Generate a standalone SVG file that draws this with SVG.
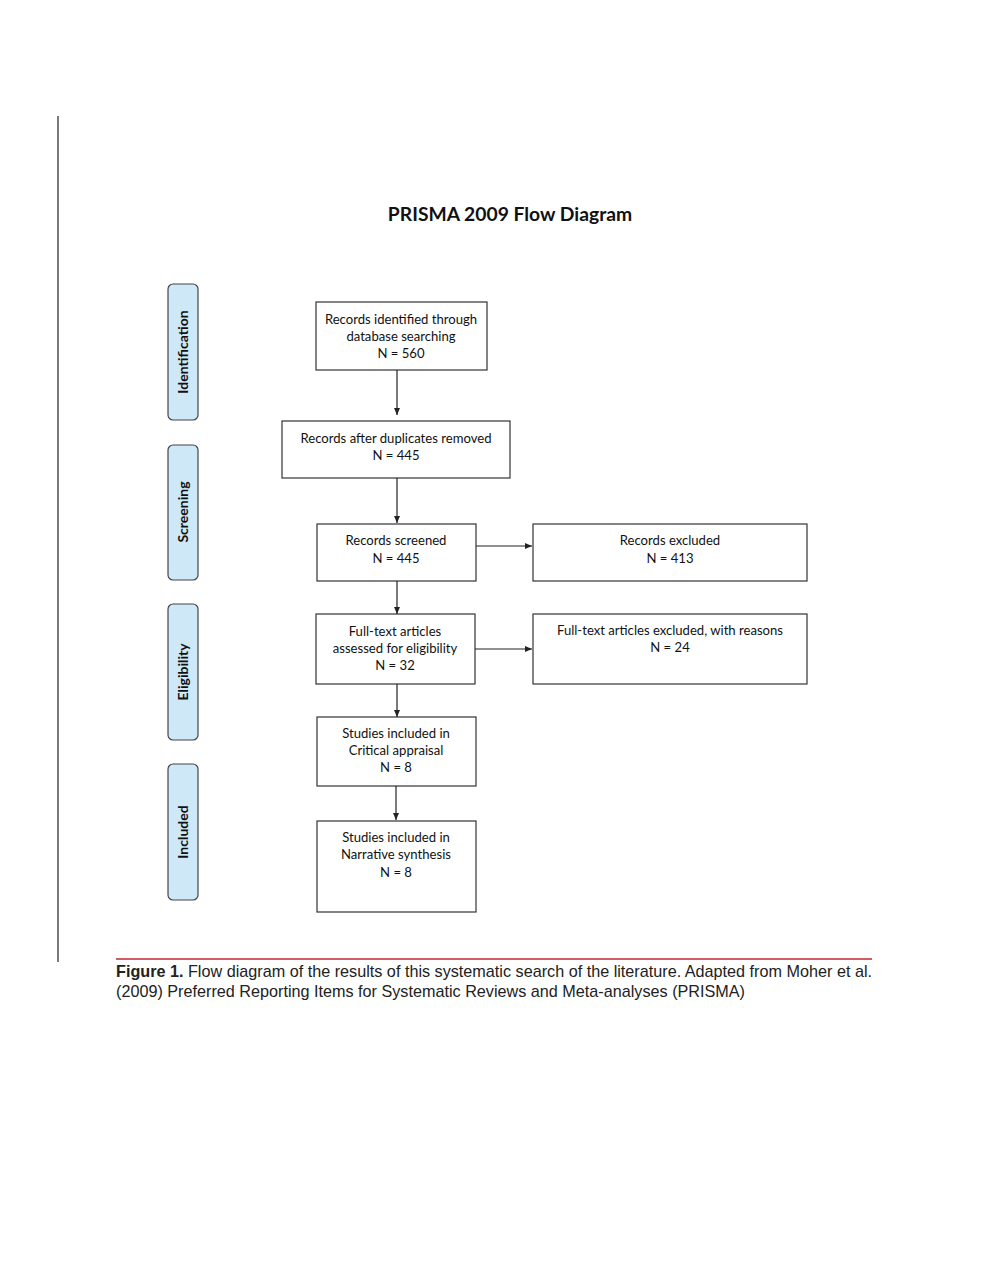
<svg xmlns="http://www.w3.org/2000/svg" width="989" height="1280" viewBox="0 0 989 1280">
<style>
.box{fill:#fff;stroke:#333;stroke-width:1.2}
.side{fill:#cfe8f8;stroke:#444;stroke-width:1.2}
.t{font-family:Lato,"Open Sans",sans-serif;font-size:13.1px;fill:#111;text-anchor:middle}
.s{font-family:Lato,"Open Sans",sans-serif;font-size:14px;font-weight:bold;fill:#111;text-anchor:middle}
.c{stroke:#222;stroke-width:1.2;fill:none;marker-end:url(#ah)}
.cap{font-family:"Liberation Sans",Arial,sans-serif;font-size:17px;fill:#222}
</style>
<defs>
<marker id="ah" markerWidth="8" markerHeight="8" refX="7" refY="4" orient="auto" markerUnits="userSpaceOnUse">
<path d="M0,1 L7,4 L0,7 Z" fill="#222"/>
</marker>
</defs>
<rect width="989" height="1280" fill="#fff"/>
<line x1="58" y1="116" x2="58" y2="962" stroke="#222" stroke-width="1.2"/>
<text x="510" y="221" font-family="Lato,'Open Sans',sans-serif" font-size="19.3" font-weight="bold" fill="#111" text-anchor="middle">PRISMA 2009 Flow Diagram</text>

<g id="phase-identification"><rect class="side" x="168" y="284" width="30" height="136" rx="5"/><text class="s" transform="translate(188,352) rotate(-90)">Identification</text></g>
<g id="phase-screening"><rect class="side" x="168" y="445" width="30" height="135" rx="5"/><text class="s" transform="translate(188,512) rotate(-90)">Screening</text></g>
<g id="phase-eligibility"><rect class="side" x="168" y="604" width="30" height="136" rx="5"/><text class="s" transform="translate(188,672) rotate(-90)">Eligibility</text></g>
<g id="phase-included"><rect class="side" x="168" y="764" width="30" height="136" rx="5"/><text class="s" transform="translate(188,832) rotate(-90)">Included</text></g>

<g id="n-identified"><rect class="box" x="316" y="302" width="171" height="68"/><text class="t" x="401" y="324">Records identified through</text><text class="t" x="401" y="341">database searching</text><text class="t" x="401" y="358">N = 560</text></g>
<g id="n-dedup"><rect class="box" x="282" y="421" width="228" height="57"/><text class="t" x="396" y="443">Records after duplicates removed</text><text class="t" x="396" y="460">N = 445</text></g>
<g id="n-screened"><rect class="box" x="317" y="524" width="159" height="57"/><text class="t" x="396" y="545">Records screened</text><text class="t" x="396" y="563">N = 445</text></g>
<g id="n-excluded"><rect class="box" x="533" y="524" width="274" height="57"/><text class="t" x="670" y="545">Records excluded</text><text class="t" x="670" y="563">N = 413</text></g>
<g id="n-fulltext"><rect class="box" x="316" y="614" width="159" height="70"/><text class="t" x="395" y="636">Full-text articles</text><text class="t" x="395" y="653">assessed for eligibility</text><text class="t" x="395" y="670">N = 32</text></g>
<g id="n-ftexcluded"><rect class="box" x="533" y="614" width="274" height="70"/><text class="t" x="670" y="635">Full-text articles excluded, with reasons</text><text class="t" x="670" y="652">N = 24</text></g>
<g id="n-critical"><rect class="box" x="317" y="717" width="159" height="69"/><text class="t" x="396" y="738">Studies included in</text><text class="t" x="396" y="755">Critical appraisal</text><text class="t" x="396" y="772">N = 8</text></g>
<g id="n-narrative"><rect class="box" x="317" y="821" width="159" height="91"/><text class="t" x="396" y="842">Studies included in</text><text class="t" x="396" y="859">Narrative synthesis</text><text class="t" x="396" y="877">N = 8</text></g>

<g id="connectors">
<line class="c" x1="397" y1="370" x2="397" y2="415"/>
<line class="c" x1="397" y1="478" x2="397" y2="523"/>
<line class="c" x1="397" y1="581" x2="397" y2="614"/>
<line class="c" x1="397" y1="684" x2="397" y2="717"/>
<line class="c" x1="396" y1="786" x2="396" y2="820"/>
<line class="c" x1="476" y1="546" x2="532" y2="546"/>
<line class="c" x1="475" y1="649" x2="532" y2="649"/>
</g>

<line x1="116" y1="959" x2="872" y2="959" stroke="#c0272d" stroke-width="1.5"/>
<text class="cap" x="116" y="977" textLength="756" lengthAdjust="spacingAndGlyphs"><tspan font-weight="bold">Figure 1.</tspan> Flow diagram of the results of this systematic search of the literature. Adapted from Moher et al.</text>
<text class="cap" x="116" y="997" textLength="629" lengthAdjust="spacingAndGlyphs">(2009) Preferred Reporting Items for Systematic Reviews and Meta-analyses (PRISMA)</text>
</svg>
